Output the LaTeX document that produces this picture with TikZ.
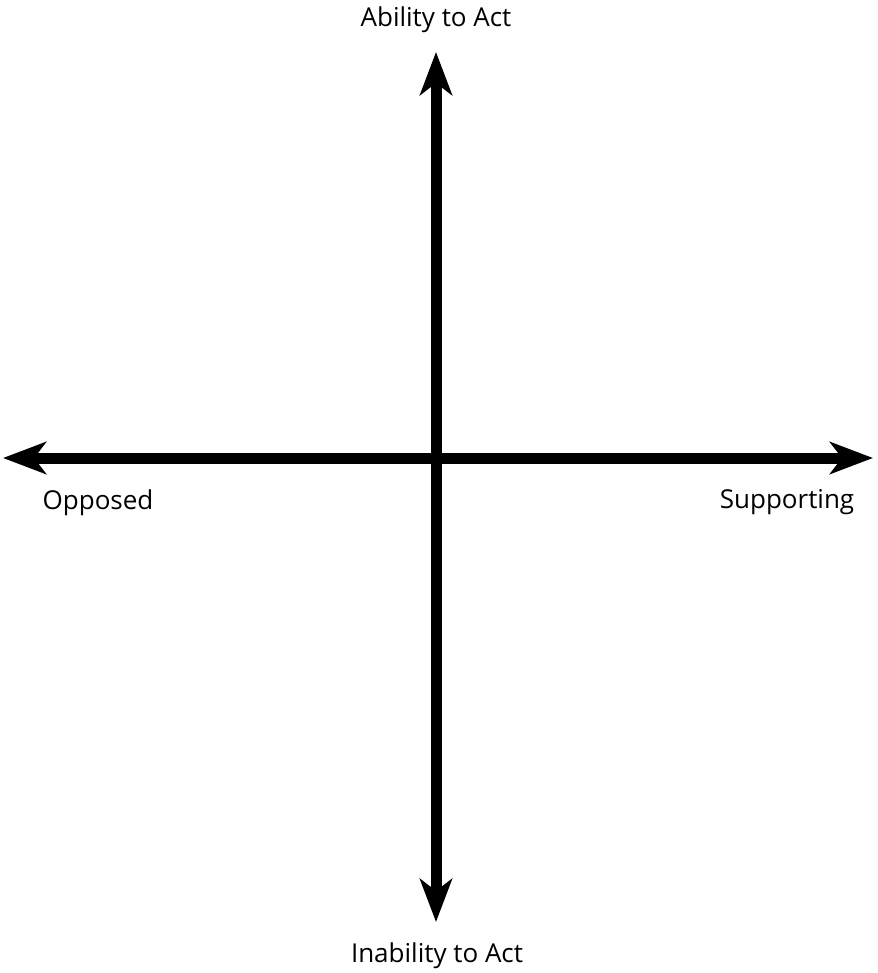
\documentclass[tikz,border=0pt]{standalone}
\usepackage{fontspec}
\setmainfont{Open Sans}
\usetikzlibrary{arrows.meta, positioning}

\tikzset{
  axis/.style={line width=11pt, {Stealth[length=43pt, width=32pt, inset=12pt]}-{Stealth[length=43pt, width=32pt, inset=12pt]}},
  lbl/.style={anchor=base, inner sep=0pt, font=\fontsize{26}{31}\selectfont}
}

\begin{document}
\begin{tikzpicture}[x=1pt, y=-1pt]
  \useasboundingbox (0,0) rectangle (877,973);

  % axis ends
  \coordinate (top) at (436,52);
  \coordinate (bottom) at (436,922);
  \coordinate (left) at (3,458);
  \coordinate (right) at (873,458);

  % axes
  \draw[axis] (bottom) -- (top);
  \draw[axis] (left) -- (right);

  % labels
  \node[lbl] (able) at (436,27) {Ability to Act};
  \node[lbl] (unable) at (437,962) {Inability to Act};
  \node[lbl] (opposed) at (98,509) {Opposed};
  \node[lbl] (support) at (787,508) {Supporting};
\end{tikzpicture}
\end{document}
